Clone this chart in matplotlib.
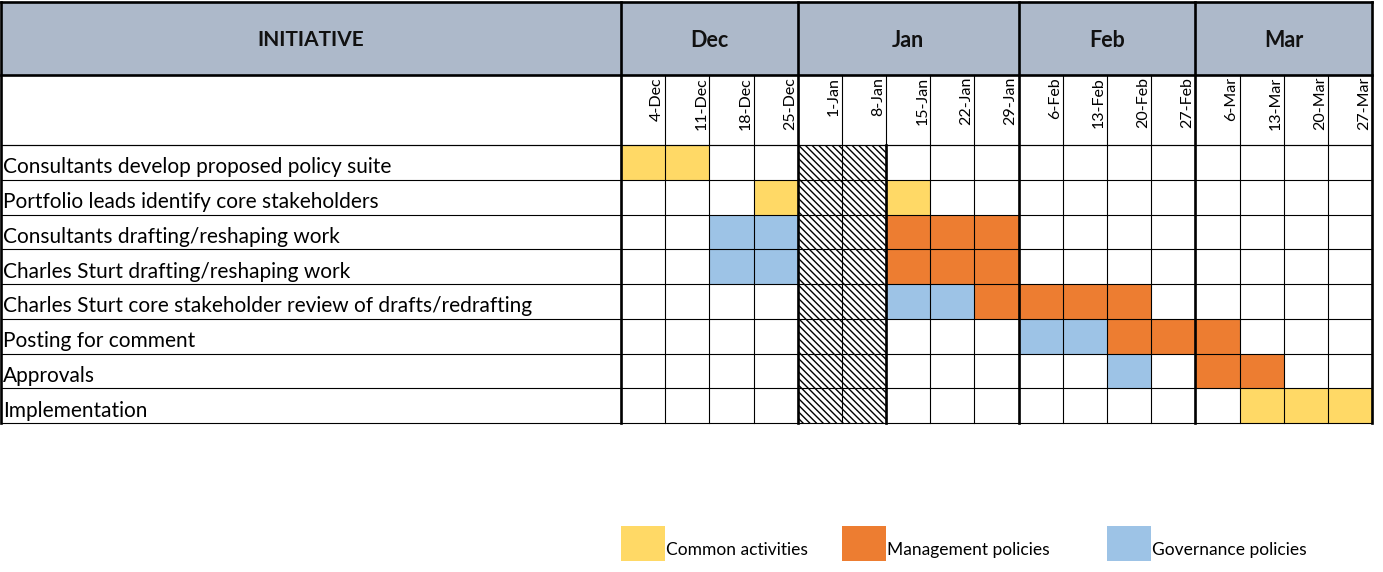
import matplotlib
matplotlib.use("Agg")
import matplotlib.pyplot as plt
from matplotlib.patches import Rectangle

# ---------------- data ----------------
initiatives = [
    "Consultants develop proposed policy suite",
    "Portfolio leads identify core stakeholders",
    "Consultants drafting/reshaping work",
    "Charles Sturt drafting/reshaping work",
    "Charles Sturt core stakeholder review of drafts/redrafting",
    "Posting for comment",
    "Approvals",
    "Implementation",
]
months = ["Dec", "Jan", "Feb", "Mar"]
weeks_per_month = [4, 5, 4, 4]
week_labels = ["4-Dec", "11-Dec", "18-Dec", "25-Dec",
               "1-Jan", "8-Jan", "15-Jan", "22-Jan", "29-Jan",
               "6-Feb", "13-Feb", "20-Feb", "27-Feb",
               "6-Mar", "13-Mar", "20-Mar", "27-Mar"]
# week indices (into week_labels) per initiative
common_weeks = [[0, 1], [3, 6], [], [], [], [], [], [14, 15, 16]]
management_weeks = [[], [], [6, 7, 8], [6, 7, 8], [8, 9, 10, 11], [11, 12, 13], [13, 14], []]
governance_weeks = [[], [], [2, 3], [2, 3], [6, 7], [9, 10], [11], []]
holiday_weeks = [4, 5]
legend_labels = ["Common activities", "Management policies", "Governance policies"]

# ---------------- style / layout ----------------
C_COMMON = "#FFD966"
C_MGMT = "#ED7D31"
C_GOV = "#9DC3E6"
C_HEAD = "#ADB9CA"
FONT = ["Lato", "DejaVu Sans"]

W, H = 1383, 572
label_w = 621.0
col_w = 44.18
top = 2.0
head_b = 75.0
date_b = 145.0
row_h = 34.75
thin = 0.8
thick = 1.9

plt.rcParams["hatch.linewidth"] = 1.0

fig = plt.figure(figsize=(W / 100, H / 100), dpi=100)
ax = fig.add_axes([0, 0, 1, 1])
ax.set_xlim(0, W)
ax.set_ylim(H, 0)
ax.axis("off")

n_weeks = len(week_labels)
n_rows = len(initiatives)
x0 = label_w
x_end = x0 + n_weeks * col_w
y_rows0 = date_b
y_end = y_rows0 + n_rows * row_h


def cx(i):
    return x0 + i * col_w


def ry(r):
    return y_rows0 + r * row_h


# header fill
ax.add_patch(Rectangle((1, top), x_end - 1, head_b - top, facecolor=C_HEAD, edgecolor="none", zorder=0))
ax.text(label_w / 2, (top + head_b) / 2 + 2, "INITIATIVE", ha="center", va="center",
        fontsize=15, fontweight="bold", family=FONT, color="#111111")

# month headers
month_bounds = []
start = 0
for m, n in zip(months, weeks_per_month):
    a, b = cx(start), cx(start + n)
    month_bounds.append((a, b))
    ax.text((a + b) / 2, (top + head_b) / 2 + 2, m, ha="center", va="center",
            fontsize=15.5, fontweight="bold", family=FONT, color="#111111")
    start += n

# date labels
for i, lab in enumerate(week_labels):
    ax.text(cx(i + 1) - 8, head_b + 2, lab, rotation=90, ha="center", va="top",
            fontsize=11.5, family=FONT, color="black")

# coloured cells
for series, col in ((common_weeks, C_COMMON), (management_weeks, C_MGMT), (governance_weeks, C_GOV)):
    for r, wks in enumerate(series):
        for w in wks:
            ax.add_patch(Rectangle((cx(w), ry(r)), col_w, row_h, facecolor=col, edgecolor="none", zorder=1))

# holiday hatch
for w in holiday_weeks:
    for r in range(n_rows):
        ax.add_patch(Rectangle((cx(w), ry(r)), col_w, row_h, facecolor="white", edgecolor="black",
                               hatch="\\\\\\\\\\", linewidth=0, zorder=1))

# row labels
for r, lab in enumerate(initiatives):
    ax.text(3, ry(r) + row_h / 2 + 5, lab, ha="left", va="center", fontsize=15,
            family=FONT, color="black")

# thin grid
for i in range(n_weeks + 1):
    ax.plot([cx(i), cx(i)], [head_b, y_end], color="black", lw=thin, zorder=3)
for r in range(n_rows + 1):
    ax.plot([1, x_end], [ry(r), ry(r)], color="black", lw=thin, zorder=3)
ax.plot([1, x_end], [date_b, date_b], color="black", lw=thin, zorder=3)

# thick lines
ax.plot([1, x_end], [top, top], color="black", lw=thick, zorder=4)
ax.plot([1, x_end], [head_b, head_b], color="black", lw=thick, zorder=4)
ax.plot([1, 1], [top, y_end], color="black", lw=thick, zorder=4)
for a, b in month_bounds:
    ax.plot([a, a], [top, y_end], color="black", lw=thick, zorder=4)
ax.plot([x_end, x_end], [top, y_end], color="black", lw=thick, zorder=4)
hx = cx(holiday_weeks[-1] + 1)
ax.plot([hx, hx], [y_rows0, y_end], color="black", lw=thick, zorder=4)

# legend
leg_y = 526
leg_cols = [0, 5, 11]
for lab, col, w in zip(legend_labels, (C_COMMON, C_MGMT, C_GOV), leg_cols):
    ax.add_patch(Rectangle((cx(w), leg_y), col_w, row_h, facecolor=col, edgecolor="none"))
    ax.text(cx(w) + col_w + 1, leg_y + row_h / 2 + 7, lab, ha="left", va="center",
            fontsize=12.5, family=FONT, color="black")

fig.savefig("out.png", dpi=100, facecolor="white")
